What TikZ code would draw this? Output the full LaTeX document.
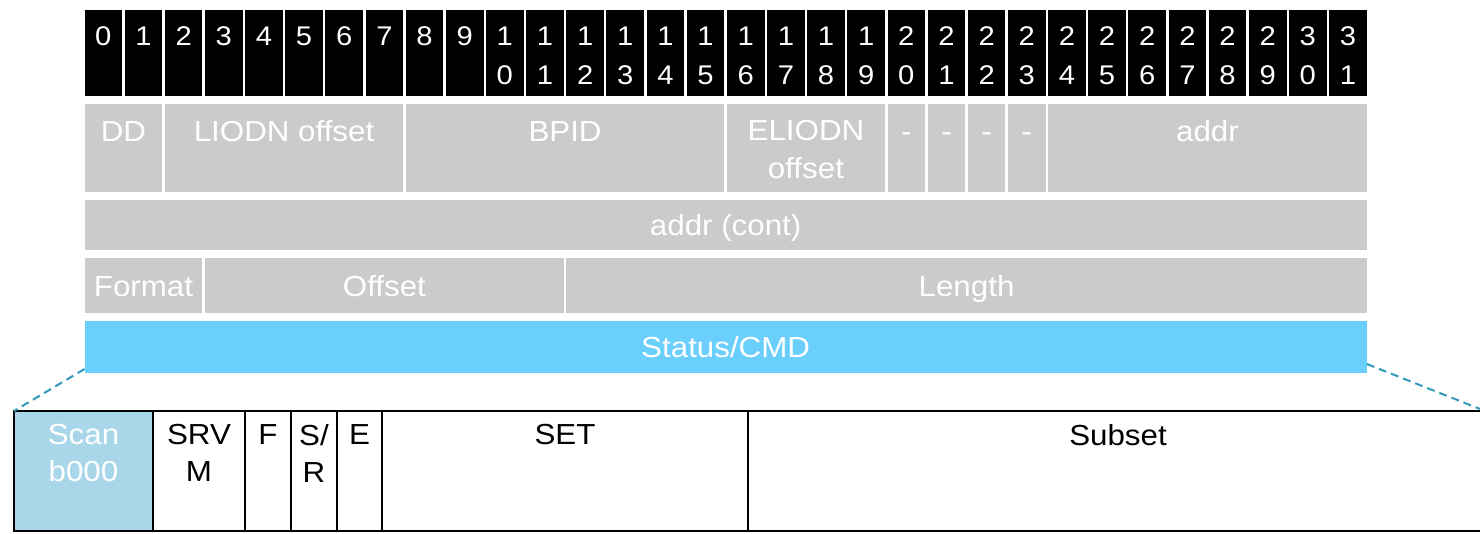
\documentclass[tikz,border=0pt]{standalone}
\usepackage{fontspec}
\setmainfont[FakeStretch=1.08]{Liberation Sans}
\definecolor{gcell}{HTML}{CBCBCB}
\definecolor{bcell}{HTML}{6BCFFE}
\definecolor{lbcell}{HTML}{A9D6E8}
\definecolor{dashc}{HTML}{3399BB}
\newcommand\regcell[6]{%
  \pgfmathsetmacro\rcx{84+40.15*#2+0.5}%
  \pgfmathsetmacro\rcw{40.15*(#3-#2+1)-2.5}%
  \node[cellbox, fill=#6, minimum width=\rcw pt, minimum height=#5 pt] (#1) at (\rcx,#4) {};}
\begin{document}
\begin{tikzpicture}[x=1pt,y=-1pt,
  cellbox/.style={draw=none, anchor=north west, inner sep=0pt, outer sep=0pt},
  bittext/.style={text=white, font=\fontsize{27}{27}\selectfont, inner sep=0pt, anchor=base},
  wtext/.style={text=white, font=\fontsize{29}{38}\selectfont, inner sep=0pt, align=center},
  midtext/.style={wtext, text height=21pt, text depth=0pt},
  toptext/.style={wtext, anchor=north, text height=21pt},
  tabcell/.style={draw=black, line width=2.5pt, anchor=north west, inner sep=0pt, outer sep=0pt, minimum height=120pt},
  tabtext/.style={font=\fontsize{29}{37}\selectfont, inner sep=0pt, align=center, anchor=north},
  zoomline/.style={draw=dashc, line width=2pt, dash pattern=on 8pt off 5pt}
]
\useasboundingbox (0,0) rectangle (1480,533);
% bit numbers
\foreach \i in {0,...,31}{
  \regcell{b\i}{\i}{\i}{10}{86}{black}
  \pgfmathtruncatemacro\tens{\i/10}
  \pgfmathtruncatemacro\ones{\i-10*\tens}
  \ifnum\i<10
    \node[bittext] (b\i-t) at ([yshift=-35.8pt]b\i.north) {\i};
  \else
    \node[bittext] (b\i-t) at ([yshift=-35.8pt]b\i.north) {\tens};
    \node[bittext] (b\i-u) at ([yshift=-74pt]b\i.north) {\ones};
  \fi
}
% word 0
\regcell{dd}{0}{1}{104}{88}{gcell}
\regcell{liodn}{2}{7}{104}{88}{gcell}
\regcell{bpid}{8}{15}{104}{88}{gcell}
\regcell{eliodn}{16}{19}{104}{88}{gcell}
\regcell{r20}{20}{20}{104}{88}{gcell}
\regcell{r21}{21}{21}{104}{88}{gcell}
\regcell{r22}{22}{22}{104}{88}{gcell}
\regcell{r23}{23}{23}{104}{88}{gcell}
\regcell{addr}{24}{31}{104}{88}{gcell}
\node[toptext] (dd-t) at ([yshift=-16pt]dd.north) {DD};
\node[toptext] (liodn-t) at ([yshift=-16pt]liodn.north) {LIODN offset};
\node[toptext] (bpid-t) at ([yshift=-16pt]bpid.north) {BPID};
\node[wtext, anchor=north] (eliodn-t) at ([yshift=-16pt]eliodn.north) {ELIODN\\offset};
\foreach \r in {r20,r21,r22,r23}{
  \node[toptext] (\r-t) at ([yshift=-16pt]\r.north) {-};
}
\node[toptext] (addr-t) at ([yshift=-16pt]addr.north) {addr};
% word 1
\regcell{addrc}{0}{31}{200}{50}{gcell}
\node[midtext] (addrc-t) at (addrc.center) {addr (cont)};
% word 2
\regcell{format}{0}{2}{258}{55}{gcell}
\regcell{offset}{3}{11}{258}{55}{gcell}
\regcell{length}{12}{31}{258}{55}{gcell}
\node[midtext] (format-t) at (format.center) {Format};
\node[midtext] (offset-t) at (offset.center) {Offset};
\node[midtext] (length-t) at (length.center) {Length};
% word 3
\regcell{stat}{0}{31}{321}{52}{bcell}
\node[midtext] (stat-t) at (stat.center) {Status/CMD};
% expanded Status/CMD
\node[tabcell, fill=lbcell, minimum width=139pt] (scan) at (14,411) {};
\node[tabcell, minimum width=92pt] (srvm) at (153,411) {};
\node[tabcell, minimum width=46pt] (f) at (245,411) {};
\node[tabcell, minimum width=46pt] (sr) at (291,411) {};
\node[tabcell, minimum width=45pt] (e) at (337,411) {};
\node[tabcell, minimum width=366pt] (set) at (382,411) {};
\node[tabcell, minimum width=740pt] (subset) at (748,411) {};
\node[tabtext, text=white] (scan-t) at ([yshift=-13pt]scan.north) {Scan\\b000};
\node[tabtext] (srvm-t) at ([yshift=-13pt]srvm.north) {SRV\\M};
\node[tabtext] (f-t) at ([yshift=-13pt]f.north) {F};
\node[tabtext] (sr-t) at ([yshift=-13pt]sr.north) {S/\\R};
\node[tabtext] (e-t) at ([yshift=-13pt]e.north) {E};
\node[tabtext] (set-t) at ([yshift=-13pt]set.north) {SET};
\node[tabtext] (subset-t) at ([yshift=-13pt]subset.north) {Subset};
% zoom lines
\coordinate (zl) at ([yshift=4pt]stat.south west);
\coordinate (zr) at ([yshift=9pt]stat.south east);
\coordinate (tr) at (1480,409);
\draw[zoomline] (zl) -- (scan.north west);
\draw[zoomline] (zr) -- (tr);
\end{tikzpicture}
\end{document}
